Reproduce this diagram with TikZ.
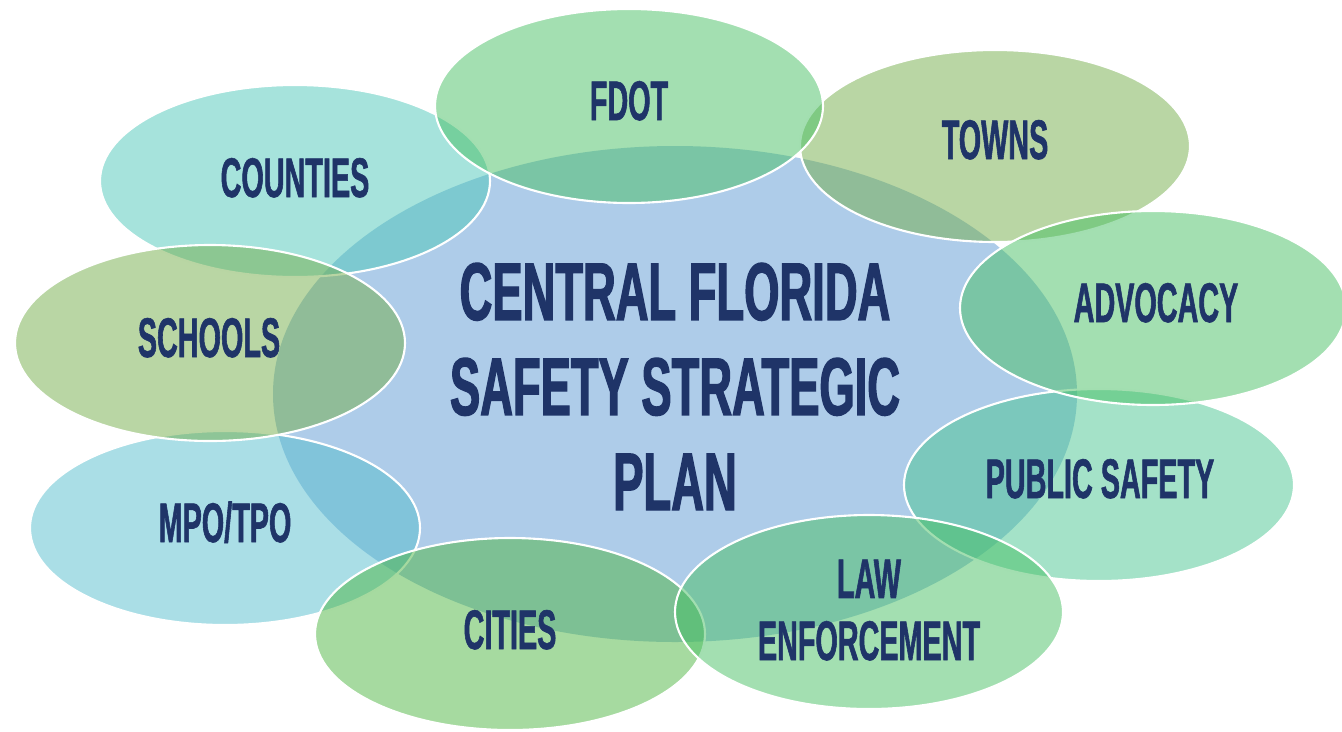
\documentclass[tikz,border=0pt]{standalone}
\usepackage{fontspec}
\newfontfamily\ringfont{Liberation Sans Bold}[FakeStretch=0.515,FakeBold=1]
\newfontfamily\hubfont{Liberation Sans Bold}[FakeStretch=0.555,FakeBold=1.5]
\definecolor{navy}{HTML}{1F3468}
\definecolor{hubblue}{HTML}{AECCE9}
\definecolor{leaf}{RGB}{71,191,99}
\definecolor{olive}{RGB}{115,173,73}
\definecolor{teal}{RGB}{77,199,185}
\definecolor{mint}{RGB}{73,197,145}
\definecolor{sky}{RGB}{85,189,205}
\definecolor{grass}{RGB}{77,181,65}

\begin{document}
\begin{tikzpicture}[x=0.02cm,y=-0.02cm,
  ring/.style={fill opacity=0.5, draw=white, line width=1.2pt},
  tag/.style={text=navy, anchor=base, align=center,
    font=\ringfont\fontsize{31.8}{35.3}\selectfont},
  hubtag/.style={text=navy, anchor=base, align=center,
    font=\hubfont\fontsize{46.5}{54.1}\selectfont}]
\useasboundingbox (0,0) rectangle (1342,731);

\coordinate (C) at (675,394);
\coordinate (Towns) at (995,146);
\coordinate (Counties) at (295,181);
\coordinate (Fdot) at (629,106);
\coordinate (Mpo) at (225,528);
\coordinate (Schools) at (210,343);
\coordinate (Safety) at (1099,485);
\coordinate (Advocacy) at (1153,308);
\coordinate (Cities) at (510,634);
\coordinate (Law) at (869,612);

\fill[hubblue] (C) ellipse [x radius=402, y radius=248];

\filldraw[ring, fill=olive] (Towns) ellipse [x radius=195, y radius=96];
\filldraw[ring, fill=teal] (Counties) ellipse [x radius=195, y radius=96];
\filldraw[ring, fill=leaf] (Fdot) ellipse [x radius=194, y radius=97];
\filldraw[ring, fill=sky] (Mpo) ellipse [x radius=195, y radius=97];
\filldraw[ring, fill=olive] (Schools) ellipse [x radius=195, y radius=98];
\filldraw[ring, fill=mint] (Safety) ellipse [x radius=195, y radius=96];
\filldraw[ring, fill=leaf] (Advocacy) ellipse [x radius=193, y radius=97];
\filldraw[ring, fill=grass] (Cities) ellipse [x radius=195, y radius=96];
\filldraw[ring, fill=leaf] (Law) ellipse [x radius=194, y radius=97];

% text on top
\node[hubtag] (plan) at (675,510) {CENTRAL FLORIDA\\SAFETY STRATEGIC\\PLAN};
\node[tag] (fdot) at (629,120) {FDOT};
\node[tag] (towns) at (995,159) {TOWNS};
\node[tag] (counties) at (295,197) {COUNTIES};
\node[tag] (schools) at (209,357) {SCHOOLS};
\node[tag] (advocacy) at (1156,322) {ADVOCACY};
\node[tag] (safety) at (1100,498) {PUBLIC SAFETY};
\node[tag] (mpo) at (225,542) {MPO/TPO};
\node[tag] (cities) at (510,649) {CITIES};
\node[tag] (law) at (869,660) {LAW\\ENFORCEMENT};
\end{tikzpicture}
\end{document}
